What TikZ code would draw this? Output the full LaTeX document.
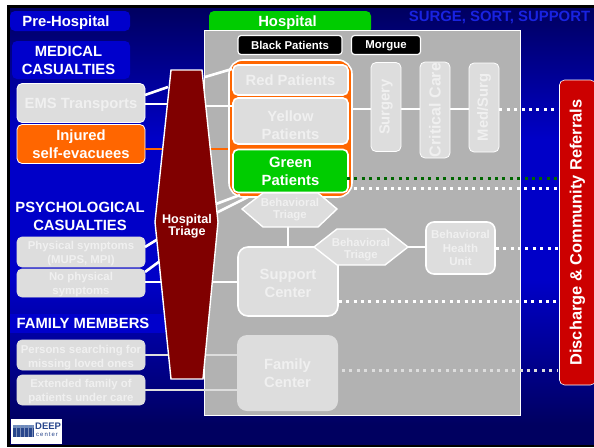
\documentclass[tikz,border=0pt]{standalone}
\usepackage{fontspec}
\setmainfont{Liberation Sans}
\definecolor{navy}{RGB}{0,0,96}
\definecolor{midblue}{RGB}{0,0,200}
\definecolor{boxblue}{RGB}{0,0,204}
\definecolor{lgray}{RGB}{221,221,221}
\definecolor{pgray}{RGB}{178,178,178}
\definecolor{orng}{RGB}{255,102,0}
\definecolor{grn}{RGB}{0,204,0}
\definecolor{dkred}{RGB}{128,0,0}
\definecolor{rd}{RGB}{204,0,0}
\definecolor{dkgrn}{RGB}{0,102,0}
\definecolor{txtgray}{RGB}{240,240,240}
\definecolor{sss}{RGB}{25,35,225}
\definecolor{logob}{RGB}{40,70,140}
\definecolor{logol}{RGB}{110,140,190}
\newcommand{\dn}[1]{\rule{0pt}{#1pt}}
\tikzset{
 box/.style={rounded corners=5pt,font=\bfseries,align=center,inner sep=0pt,text=white},
 hdr/.style={box,fill=boxblue},
 lbox/.style={box,fill=lgray,draw=white,line width=.8pt,text=txtgray},
 wbox/.style={box,fill=lgray,draw=white,line width=1.6pt,text=txtgray},
 conn/.style={white,line width=2.6pt},
 gconn/.style={lgray,line width=2.6pt},
 dots/.style={white,line width=3pt,dash pattern=on 3pt off 4.4pt},
 big/.style={font=\bfseries\fontsize{14.8}{18}\selectfont},
 small/.style={font=\bfseries\fontsize{11.4}{14}\selectfont},
 bt/.style={font=\bfseries\fontsize{11.4}{12}\selectfont,text=txtgray,align=center,inner sep=0pt},
 unit/.style={lbox,rotate=90,minimum height=30pt},
 oneline/.style={text depth=0pt},
}
\begin{document}
\begin{tikzpicture}[x=1pt,y=-1pt]
\useasboundingbox (0,0) rectangle (594,447);
\fill[white] (0,0) rectangle (594,447);
\fill[black] (7,5) rectangle (594,447);
\shade[top color=navy,bottom color=midblue] (10,8) rectangle (594,140);
\fill[midblue] (10,140) rectangle (594,280);
\shade[top color=midblue,bottom color=navy] (10,280) rectangle (594,425);
\fill[navy] (10,425) rectangle (594,445);

% header bands behind their text
\fill[boxblue] (10,314) rectangle (165,333);
\fill[boxblue,rounded corners=5pt] (10,11) rectangle (130,31);
\fill[boxblue,rounded corners=5pt] (12,41) rectangle (130,79);
\fill[grn,rounded corners=5pt] (209,11) rectangle (371,34);

% main hospital panel
\node[draw=white,line width=1.2pt,fill=pgray,minimum width=316pt,minimum height=385pt,anchor=north west,inner sep=0pt] (panel) at (203.5,30) {};

% headers
\node[big,oneline,text=white,inner sep=0pt] (pre) at (66,21) {Pre-Hospital};
\node[big,oneline,text=white,inner sep=0pt] (hosp) at (287.5,21) {Hospital};
\node[font=\bfseries\fontsize{14.9}{15}\selectfont,text=sss] (ssS) at (499.5,17) {SURGE, SORT, SUPPORT};
\node[big,text=white,align=center,inner sep=0pt] (med) at (68.5,60) {MEDICAL\\CASUALTIES};
\node[big,text=white,align=center,inner sep=0pt] (psy) at (80,216) {PSYCHOLOGICAL\\CASUALTIES};
\node[big,oneline,text=white,inner sep=0pt] (fam) at (83,323.5) {FAMILY MEMBERS};

% left boxes
\node[lbox,oneline,minimum width=128pt,minimum height=39pt,big] (ems) at (81,103) {EMS Transports};
\node[lbox,fill=orng,text=white,minimum width=128pt,minimum height=39pt,big] (inj) at (81,144) {Injured\\self-evacuees};
\node[lbox,draw=lgray,minimum width=128pt,minimum height=30pt,small] (phys) at (81,252) {\dn{11.5}Physical symptoms\\(MUPS, MPI)};
\node[lbox,draw=lgray,minimum width=128pt,minimum height=28pt,small] (nophys) at (81,283) {\dn{11.5}No physical\\symptoms};
\node[lbox,draw=lgray,minimum width=128pt,minimum height=30pt,small] (pers) at (81,355) {\dn{13}Persons searching for\\missing loved ones};
\node[lbox,draw=lgray,minimum width=128pt,minimum height=30pt,small] (ext) at (81,390) {\dn{11.5}Extended family of\\patients under care};

% right-hand boxes
\node[box,rounded corners=3pt,fill=black,draw=white,line width=1.2pt,minimum width=104pt,minimum height=19pt,font=\bfseries\fontsize{11.4}{11.4}\selectfont] (black) at (290,45) {Black Patients};
\node[box,oneline,rounded corners=3pt,fill=black,draw=white,line width=1.2pt,minimum width=69pt,minimum height=19pt,font=\bfseries\fontsize{11.4}{11.4}\selectfont] (morgue) at (386,45) {Morgue};

% orange container
\node[rounded corners=14pt,fill=orng,draw=white,line width=1.6pt,minimum width=123pt,minimum height=137pt,inner sep=0pt] (cont) at (290.5,128.5) {};

% triage corners
\coordinate (tTL) at (171,70); \coordinate (tTR) at (202,70);
\coordinate (tBL) at (171,379); \coordinate (tBR) at (203,379);
\coordinate (tML) at (155,222); \coordinate (tMR) at (218,222);

% connectors
\coordinate (c1) at (168,87); \coordinate (c2) at (232,69);
\coordinate (c3) at (205,77);
\draw[conn] (145,95) -- (c1);
\draw[conn] (145,104) -- (170,104);
\draw[line width=2.6pt,orng] (inj.east |- 0,149) -- (cont.west |- 0,149);
\draw[conn] (c3) -- (c2);
\draw[conn] (203,106) -- (232,106);
\draw[conn] (145,247) -- (158,239);
\draw[conn] (145,272) -- (160,261);
\draw[conn] (145,282) -- (162,282);
\draw[conn] (216,204) -- (240,195);
\draw[conn] (216,213) -- (248,197);
\draw[conn] (212,282) -- (238,282);
\draw[gconn] (pers.east) -- (170,355);
\draw[gconn] (203,355) -- (237,355);
\draw[gconn] (ext.east) -- (237,390);
\draw[conn] (352,109) -- (371,109);
\draw[conn] (401,109) -- (420,109);
\draw[conn] (450,109) -- (469,109);
\draw[conn] (288,225) -- (288,247);
\draw[conn] (408,247) -- (426,247);

% triage body
\draw[draw=white,line width=1.4pt,fill=dkred] (tTL) -- (tTR) -- (tMR) -- (tBR) -- (tBL) -- (tML) -- cycle;
\node[font=\bfseries\fontsize{12.6}{12.5}\selectfont,text=white,align=center,inner sep=0pt] (triage) at (187,225) {\dn{12}Hospital\\Triage};

% patients
\node[wbox,minimum width=115pt,minimum height=30pt,big] (red) at (290.5,80) {Red Patients};
\node[wbox,minimum width=115pt,minimum height=46pt,big] (yel) at (290.5,121) {\dn{19}Yellow\\Patients};
\node[wbox,fill=grn,text=white,minimum width=115pt,minimum height=43pt,big] (green) at (290.5,171) {Green\\Patients};

% units
\node[unit,minimum width=89pt,font=\bfseries\fontsize{14.8}{16}\selectfont] (surg) at (386,107) {Surgery};
\node[unit,minimum width=96pt,font=\bfseries\fontsize{16}{16}\selectfont] (crit) at (435,110) {Critical Care};
\node[unit,minimum width=89pt,font=\bfseries\fontsize{14.8}{16}\selectfont] (msurg) at (484,107.5) {Med/Surg};

% behavioural triage 1
\draw[white,line width=1.4pt,fill=lgray] (242,209) -- (263,193) -- (318,193) -- (337,209) -- (318,227) -- (263,227) -- cycle;
\node[bt] (bt1) at (290,210) {Behavioral\\Triage};

% support
\node[wbox,rounded corners=10pt,minimum width=100pt,minimum height=69pt,big] (sup) at (288,281.5) {\dn{13.5}Support\\Center};
% behavioural triage 2
\draw[white,line width=1.4pt,fill=lgray] (314,247) -- (337,229) -- (385,229) -- (408,247) -- (385,265) -- (337,265) -- cycle;
\node[bt] (bt2) at (361,247.5) {\dn{11.5}Behavioral\\Triage};
\node[wbox,rounded corners=8pt,minimum width=69pt,minimum height=52pt,font=\bfseries\fontsize{11.5}{13.5}\selectfont] (bhu) at (460.5,248) {Behavioral\\Health\\Unit};
\node[box,fill=lgray,text=txtgray,rounded corners=10pt,minimum width=101pt,minimum height=76pt,big] (fc) at (287.5,373) {Family\\Center};

% discharge
\node[box,fill=rd,draw=white,line width=.6pt,rotate=90,minimum width=305pt,minimum height=36pt,font=\bfseries\fontsize{16.4}{16.4}\selectfont] (dis) at (577.5,232.5) {Discharge \& Community Referrals};

% dotted
\draw[dots] (msurg.south |- 0,109) -- (dis.north |- 0,109);
\draw[dkgrn,line width=3pt,dash pattern=on 3pt off 4.4pt] (347,178) -- (558,178);
\draw[dots] (354,188) -- (558,188);
\draw[dots] (bhu.east) -- (dis.north |- bhu.east);
\draw[dots] (sup.east |- 0,301) -- (dis.north |- 0,301);
\draw[dots,lgray] (342,370) -- (558,370);

% logo
\node[fill=white,minimum width=51pt,minimum height=25pt,inner sep=0pt] (logo) at (36.5,431.5) {};
\fill[logob] (13,425) rectangle (34,437);
\fill[logol] (13,425) rectangle (34,428);
\foreach \x in {16,20,24,28,32}{\draw[white!40!logob,line width=.5pt] (\x,425) -- (\x,437);}
\node[font=\bfseries\fontsize{9.5}{10}\selectfont,text=logob,anchor=west,inner sep=0pt] (deep) at (35,426.5) {DEEP};
\node[font=\fontsize{6}{6}\selectfont,text=logob,anchor=west,inner sep=0pt] (center) at (36,435) {c\,e\,n\,t\,e\,r};
\end{tikzpicture}
\end{document}
